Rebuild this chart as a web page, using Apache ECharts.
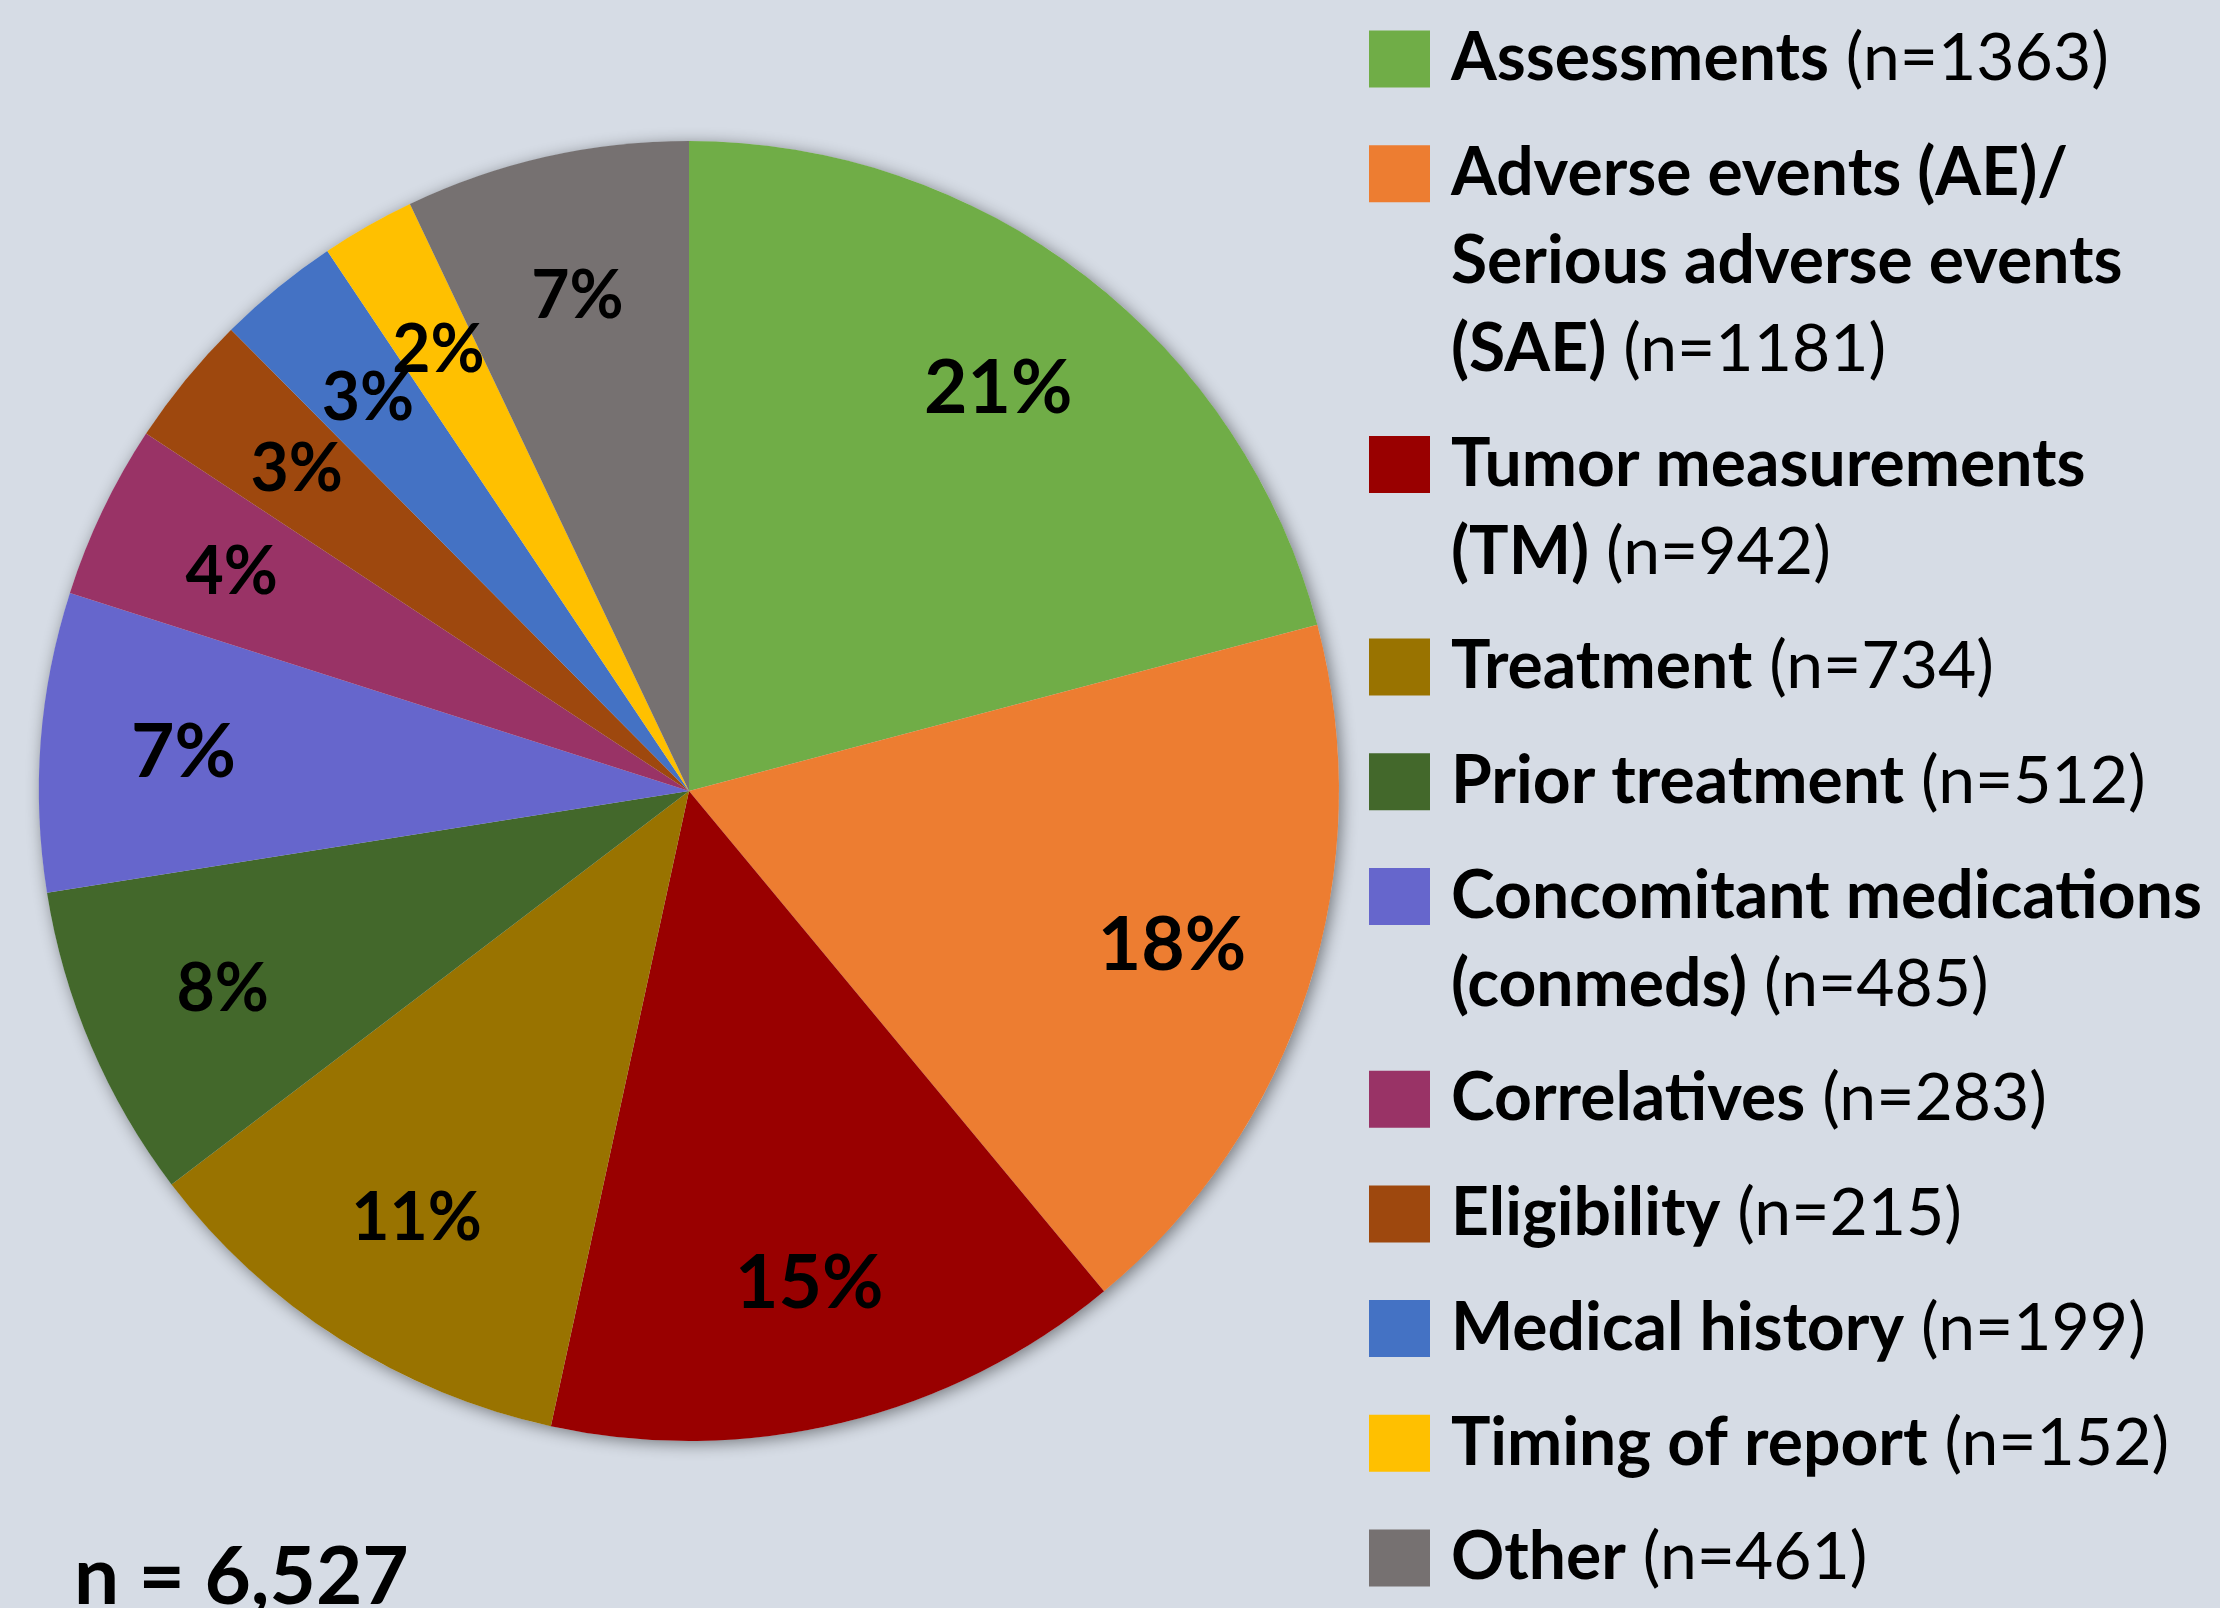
<!DOCTYPE html>
<html>
<head>
<meta charset="utf-8">
<title>Query categories</title>
<script src="https://cdn.jsdelivr.net/npm/echarts@6/dist/echarts.min.js"></script>
<style>
  html, body { margin: 0; padding: 0; background: #d6dce5; }
  #main { width: 2220px; height: 1608px; }
</style>
</head>
<body>
<div id="main"></div>
<script>
// categories, in the order they run clockwise from 12 o'clock
const names = [
  "Assessments",
  "Adverse events (AE)/\nSerious adverse events\n(SAE)",
  "Tumor measurements\n(TM)",
  "Treatment",
  "Prior treatment",
  "Concomitant medications\n(conmeds)",
  "Correlatives",
  "Eligibility",
  "Medical history",
  "Timing of report",
  "Other"
];
const values = [1363, 1181, 942, 734, 512, 485, 283, 215, 199, 152, 461];
// percent labels as printed on the slices
const pctLabels = ["21%", "18%", "15%", "11%", "8%", "7%", "4%", "3%", "3%", "2%", "7%"];
const colors = [
  "#70ad47", "#ed7d31", "#990000", "#997300", "#43682b", "#6666cc",
  "#993366", "#9e480e", "#4472c4", "#ffc000", "#767171"
];

const FONT = "Lato";
const total = values.reduce((a, b) => a + b, 0);
const R = 650;
const C = [689, 791];
const LABEL_R = 0.78; // labels sit out towards the rim, like in the original

const mycharts = echarts.init(document.getElementById("main"));

// legend: the coloured square lives inside the rich text so it lines up with the first line
const legendRich = {
  b: { fontFamily: FONT, fontWeight: 700, fontSize: 66, lineHeight: 88, color: "#000" },
  n: { fontFamily: FONT, fontWeight: 400, fontSize: 66, lineHeight: 88, color: "#000" },
  gap: { width: 21, lineHeight: 88 },
  pad: { width: 82, lineHeight: 88 }
};
colors.forEach(function (c, i) {
  legendRich["s" + i] = { width: 61, height: 57, lineHeight: 88, backgroundColor: c };
});

function legendText(name) {
  const i = names.indexOf(name);
  const lines = name.split("\n");
  let s = "";
  lines.forEach(function (ln, k) {
    s += (k === 0 ? "{s" + i + "|}{gap|}" : "{pad|}") + "{b|" + ln + "}";
    if (k === lines.length - 1) {
      s += "{n| (n=" + values[i] + ")}";
    } else {
      s += "\n";
    }
  });
  return s;
}

const pieData = names.map(function (n, i) {
  return { name: n, value: values[i], itemStyle: { color: colors[i] } };
});

// label anchor for each slice: [radius share, middle of the slice on the value circle]
let acc = 0;
const labelPoints = values.map(function (v) {
  const mid = acc + v / 2;
  acc += v;
  return [LABEL_R, mid];
});

let option = {
  backgroundColor: "#d6dce5",
  animation: false,
  title: {
    text: "n = " + total.toLocaleString("en-US"),
    left: 74,
    top: 1530,
    padding: 0,
    textStyle: { fontFamily: FONT, fontWeight: 700, fontSize: 80, lineHeight: 96, color: "#000" }
  },
  legend: {
    orient: "vertical",
    left: 1364,
    top: 26,
    padding: 0,
    itemGap: 48.7,
    itemWidth: 0,
    itemHeight: 10,
    icon: "none",
    selectedMode: false,
    data: names,
    formatter: legendText,
    textStyle: { color: "#000", rich: legendRich }
  },
  polar: { center: C, radius: R },
  angleAxis: { type: "value", min: 0, max: total, startAngle: 90, clockwise: true, show: false },
  radiusAxis: { type: "value", min: 0, max: 1, show: false },
  series: [
    {
      // soft drop shadow under the whole pie
      name: "shadow",
      type: "pie",
      silent: true,
      center: C,
      radius: [0, R],
      z: 1,
      label: { show: false },
      itemStyle: {
        color: "#d6dce5",
        shadowBlur: 16,
        shadowOffsetX: 3,
        shadowOffsetY: 3,
        shadowColor: "rgba(0,0,0,0.45)"
      },
      data: [{ name: "all", value: total }]
    },
    {
      name: "queries",
      type: "pie",
      center: C,
      radius: [0, R],
      startAngle: 90,
      clockwise: true,
      z: 2,
      label: { show: false },
      labelLine: { show: false },
      emphasis: { disabled: true },
      itemStyle: { borderWidth: 0 },
      data: pieData
    },
    {
      // invisible points on the polar system that carry the percent labels
      name: "labels",
      type: "scatter",
      coordinateSystem: "polar",
      silent: true,
      z: 5,
      symbolSize: 1,
      itemStyle: { color: "rgba(0,0,0,0)" },
      label: {
        show: true,
        position: "inside",
        color: "#000",
        opacity: 1,
        textBorderWidth: 0,
        formatter: function (p) {
          const i = p.dataIndex;
          const big = values[i] / total > 0.14 || i === 5;
          return "{" + (big ? "big" : "small") + "|" + pctLabels[i] + "}";
        },
        rich: {
          big: { fontFamily: FONT, fontWeight: 700, fontSize: 75, color: "#000", textBorderWidth: 0 },
          small: { fontFamily: FONT, fontWeight: 700, fontSize: 66, color: "#000", textBorderWidth: 0 }
        }
      },
      data: labelPoints
    }
  ]
};

mycharts.setOption(option);
</script>
</body>
</html>
